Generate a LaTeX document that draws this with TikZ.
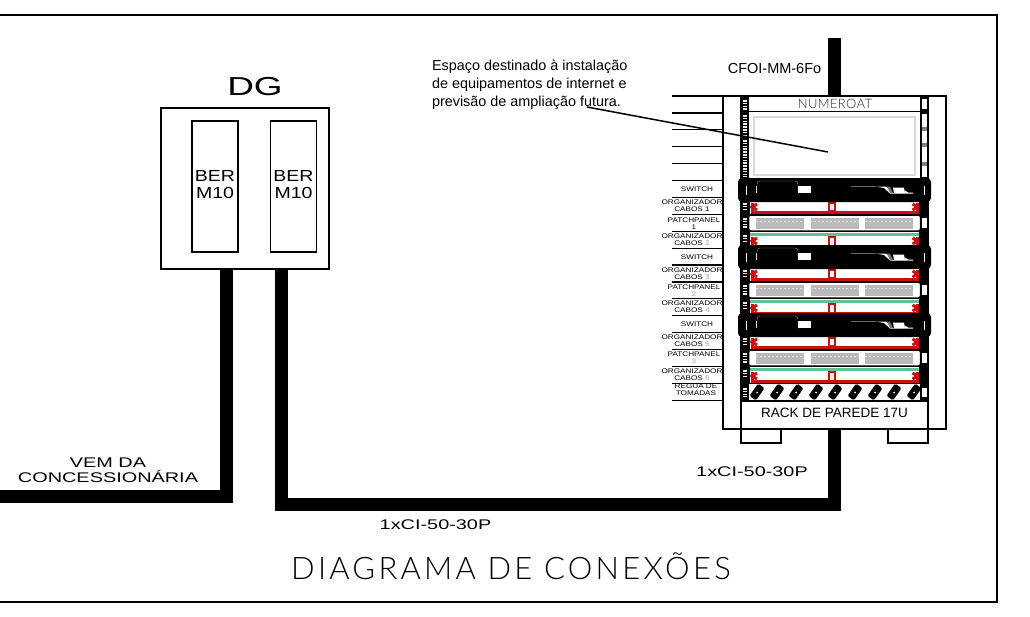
\documentclass[tikz,border=0pt]{standalone}
\usepackage{fontspec}
\setmainfont{Liberation Sans}
\newfontfamily\widefont[FakeStretch=1.42]{Liberation Sans}
\newfontfamily\rowfont[FakeStretch=1.22]{Liberation Sans}
\newfontfamily\thinfont{Lato Light}
\usetikzlibrary{positioning}
\usetikzlibrary{calc}
\definecolor{orgred}{RGB}{200,16,16}
\definecolor{orggreen}{RGB}{100,190,150}

\begin{document}
\begin{tikzpicture}
  [x=1pt,y=-1pt,
  box/.style={rectangle,draw=black,fill=white,line width=1.5pt,inner sep=0pt,outer sep=0pt},
  cable/.style={black,line width=13pt},
  wire/.style={black,line width=1.5pt},
  txt/.style={inner sep=0pt,outer sep=0pt,align=center},
  widetxt/.style={txt,font=\widefont\fontsize{14}{15}\selectfont},
  berlabel/.style={txt,font=\rowfont\fontsize{16}{17}\selectfont},
  rowlabel/.style={txt,font=\rowfont\fontsize{6.7}{6.9}\selectfont},
  rowline/.style={black,line width=1.2pt},
  orgrow/.style={box,minimum width=171pt},
  patchrow/.style={box,rounded corners=2pt,minimum width=172pt,minimum height=16pt},
  patchblock/.style={rectangle,fill=black!27,inner sep=0pt,minimum width=48pt,minimum height=11pt},
  switchrow/.style={rectangle,fill=black,rounded corners=4pt,inner sep=0pt,minimum width=193pt,minimum height=24pt},
  railticks/.style={black!8,line width=3.6pt,dash pattern=on 1.6pt off 1.2pt},
  railcell/.style={white,line width=4.5pt},
  railbolt/.style={circle,fill=black,inner sep=0pt,minimum size=7pt},
  socket/.style={rectangle,fill=black,rounded corners=1.5pt,rotate=55,inner sep=0pt,minimum width=15pt,minimum height=8pt},
  socketdot/.style={circle,fill=white,inner sep=0pt,minimum size=2pt},
  redline/.style={orgred,line width=3pt},
  redthin/.style={orgred,line width=2pt,fill=white}]
  \useasboundingbox (0,0) rectangle (1030,616);

  % frame
  \coordinate (f1) at (0,15);
  \coordinate (f2) at (997,15);
  \coordinate (f3) at (997,602);
  \coordinate (f4) at (0,602);
  \draw [black,line width=1.4pt] (f1) -- (f2) -- (f3) -- (f4);

  % DG
  \node[txt,font=\widefont\fontsize{26}{26}\selectfont] (dgname) at (255,87) {DG};
  \node[box,minimum width=168pt,minimum height=161pt] (dg) at (245,188.5) {};
  \node[box,minimum width=46pt,minimum height=131pt] (ber1) at (215,186.5) {};
  \node[box,minimum width=46pt,minimum height=131pt] (ber2) at (293.5,186.5) {};
  \node[berlabel] (berlabel1) at (215,184.5) {BER\\M10};
  \node[berlabel] (berlabel2) at (293.5,184.5) {BER\\M10};

  % cables
  \coordinate (c11) at (226,269);
  \coordinate (c12) at (226,496.5);
  \coordinate (c13) at (0,496.5);
  \coordinate (c21) at (281.5,269);
  \coordinate (c22) at (281.5,504.5);
  \coordinate (c23) at (834.5,504.5);
  \coordinate (c24) at (834.5,429);
  \coordinate (c31) at (834.5,38);
  \coordinate (c32) at (834.5,96);
  \draw [cable] (c11) -- (c12) -- (c13);
  \draw [cable] (c21) -- (c22) -- (c23) -- (c24);
  \draw [cable] (c31) -- (c32);

  \node[widetxt] (vem) at (108,470) {VEM DA\\CONCESSIONÁRIA};
  \node[widetxt] (cl1) at (435.5,525) {1xCI-50-30P};
  \node[widetxt] (cl2) at (752,472) {1xCI-50-30P};
  \node[txt,font=\fontsize{14.5}{15}\selectfont] (cfo) at (774.5,69) {CFOI-MM-6Fo};
  \node[txt,align=left,anchor=north west,font=\fontsize{14.4}{18}\selectfont] (esp) at (432,60) {Espaço destinado à instalação\\de equipamentos de internet e\\previsão de ampliação futura.};
  \node[txt,font=\thinfont\fontsize{31}{31}\selectfont\addfontfeature{LetterSpace=10.5}] (title) at (511,566) {DIAGRAMA DE CONEXÕES};

  % rack
  \node[box,minimum width=223pt,minimum height=333pt] (rack) at (834.5,262.5) {};
  \node[box,minimum width=40pt,minimum height=14pt] (foot1) at (761,436) {};
  \node[box,minimum width=40pt,minimum height=14pt] (foot2) at (908,436) {};
  \node[box,minimum width=187pt,minimum height=333pt] (frame) at (834.5,262.5) {};
  \node[rectangle,fill=black,inner sep=0pt,minimum width=8pt,minimum height=304pt] (rail1) at (745,248.5) {};
  \node[rectangle,fill=black,inner sep=0pt,minimum width=8pt,minimum height=304pt] (rail2) at (924,248.5) {};
  \coordinate (b1) at (741,401);
  \coordinate (b2) at (928,401);
  \draw [wire] (b1) -- (b2);
  \coordinate (n1) at (749,111.5);
  \coordinate (n2) at (920,111.5);
  \draw [wire] (n1) -- (n2);
  \node[txt,font=\thinfont\fontsize{13}{13}\selectfont\addfontfeature{LetterSpace=3},black!85] (num) at (835,104) {NUMEROAT};
  \node[rectangle,draw=black!15,line width=1.3pt,inner sep=0pt,minimum width=161pt,minimum height=58pt] (space) at (834.5,146) {};

  % rail cells
  \draw [railticks] (745,100) -- (745,110);
  \draw [railticks] (745,115) -- (745,137);
  \draw [railticks] (745,140) -- (745,177);
  \draw [railcell] (924.5,99) -- (924.5,109);
  \draw [railcell] (924.5,114) -- (924.5,177);
  \draw [black!50,line width=4.5pt] (924.5,127) -- (924.5,131);
  \draw [black!50,line width=4.5pt] (924.5,143) -- (924.5,147);
  \draw [black!50,line width=4.5pt] (924.5,162) -- (924.5,166);
  \draw [railticks] (745,388) -- (745,397);
  \draw [railcell] (924.5,388) -- (924.5,397);

  % organizers and patch panels
  \foreach \i/\dy in {1/0,2/67,3/135} {
    \begin{scope}[shift={(0,\dy)}]
      \draw [railticks] (745,203) -- (745,210);
      \draw [railticks] (745,218) -- (745,228);
      \draw [railticks] (745,235) -- (745,243);
      \draw [railcell] (924.5,218) -- (924.5,228);
      \node[orgrow,minimum height=15pt] (orga\i) at (834.5,207.5) {};
      \node[orgrow,minimum height=17pt] (orgb\i) at (834.5,240) {};
      \fill[orggreen] (750,233) rectangle (919,236.2);
      \draw [redline] (752.5,203) -- (752.5,212.3) -- (917,212.3) -- (917,203);
      \draw [redthin] (828.5,203) rectangle (834.5,211);
      \draw [redline] (757,204) -- (752,207) -- (757,210);
      \draw [redline] (912.5,204) -- (917.5,207) -- (912.5,210);
      \draw [redline] (752.5,237) -- (752.5,246) -- (917,246) -- (917,237);
      \draw [redthin] (828.5,236.5) rectangle (834.5,246);
      \draw [redline] (757,238) -- (752,241) -- (757,244);
      \draw [redline] (912.5,238) -- (917.5,241) -- (912.5,244);
      \node[patchrow] (patch\i) at (834.5,223) {};
      \node[patchblock] (pa\i) at (780,223.5) {};
      \node[patchblock] (pb\i) at (834.5,223.5) {};
      \node[patchblock] (pc\i) at (889,223.5) {};
      \draw [black!12,line width=.5pt,dash pattern=on 2pt off 2pt] (pa\i.west |- 0,221) -- (pa\i.east |- 0,221);
      \draw [black!12,line width=.5pt,dash pattern=on 2pt off 2pt] (pb\i.west |- 0,221) -- (pb\i.east |- 0,221);
      \draw [black!12,line width=.5pt,dash pattern=on 2pt off 2pt] (pc\i.west |- 0,221) -- (pc\i.east |- 0,221);
      \node[railbolt,minimum size=5pt] (bl\i) at (745,214) {};
      \node[railbolt] (br\i) at (924,214) {};
      \node[railbolt,minimum size=5pt] (cl\i) at (745,232) {};
      \node[railbolt] (cr\i) at (924,232) {};
    \end{scope}
  }
  \node[railbolt] (bolt7) at (924,383) {};

  % switches
  \foreach \i/\dy in {1/0,2/67,3/135} {
    \begin{scope}[shift={(0,\dy)}]
      \node[switchrow] (sw\i) at (834.5,190) {};
      \draw [black!45,line width=.4pt,rounded corners=3pt] (757,194) -- (757,181) -- (798,181) -- (798,194);
      \fill[white] (798,186) rectangle (811,193);
      \fill[white] (745.6,186) rectangle (746.4,195);
      \fill[black!15] (755.5,186) rectangle (757,193);
      \fill[white] (924.4,186) rectangle (925.2,195);
      \draw [black!60,line width=.4pt] (851,186) -- (876,186);
      \fill[white] (876,186.5) -- (886,186.5) -- (893,193) -- (905,193) -- (905,190.5) -- (908,192.5) -- (913,192.5) -- (913,193.5) -- (890,193.5) -- (884,188) -- cycle;
      \fill[black!55] (887,186.5) -- (890,186.8) -- (893,193) -- (890,193) -- cycle;
      \fill[white] (893,187.5) -- (904,187.5) -- (905,193) -- (894,193) -- cycle;
    \end{scope}
  }

  % sockets
  \foreach \i/\x in {1/757,2/777,3/796,4/816,5/835,6/855,7/875,8/894,9/914} {
    \node[socket] (sock\i) at (\x,392) {};
    \node[socketdot] (sockdot\i) at (\x,392.5) {};
  }
  \node[txt,font=\fontsize{13.5}{14}\selectfont] (rackname) at (834.5,413) {RACK DE PAREDE 17U};

  % row lines and labels
  \foreach \i in {0,...,18} {
    \coordinate (la\i) at (672,{96+16.9*\i});
    \coordinate (lb\i) at (723,{96+16.9*\i});
    \draw [rowline] (la\i) -- (lb\i);
  }
  \node[rowlabel] (lsw1) at (697,189) {SWITCH};
  \node[rowlabel] (lorg1) at (692,205.5) {ORGANIZADOR\\CABOS 1};
  \node[rowlabel] (lpp1) at (694,223.5) {PATCHPANEL\\1};
  \node[rowlabel] (lorg2) at (692,239.5) {ORGANIZADOR\\CABOS {\color{black!35}2}};
  \node[rowlabel] (lsw2) at (697,257) {SWITCH};
  \node[rowlabel] (lorg3) at (692,273.5) {ORGANIZADOR\\CABOS {\color{black!35}3}};
  \node[rowlabel] (lpp2) at (694,290.5) {PATCHPANEL\\{\color{black!35}2}};
  \node[rowlabel] (lorg4) at (692,306.5) {ORGANIZADOR\\CABOS {\color{black!35}4}};
  \node[rowlabel] (lsw3) at (697,324) {SWITCH};
  \node[rowlabel] (lorg5) at (692,341) {ORGANIZADOR\\CABOS {\color{black!35}5}};
  \node[rowlabel] (lpp3) at (694,358) {PATCHPANEL\\{\color{black!35}3}};
  \node[rowlabel] (lorg6) at (692,374.5) {ORGANIZADOR\\CABOS {\color{black!35}6}};
  \node[rowlabel] (lreg) at (696,389.5) {REGUA DE\\TOMADAS};

  % leader
  \coordinate (e1) at (587,107);
  \coordinate (e2) at (828,152);
  \draw [wire] (e1) -- (e2);
\end{tikzpicture}
\end{document}
